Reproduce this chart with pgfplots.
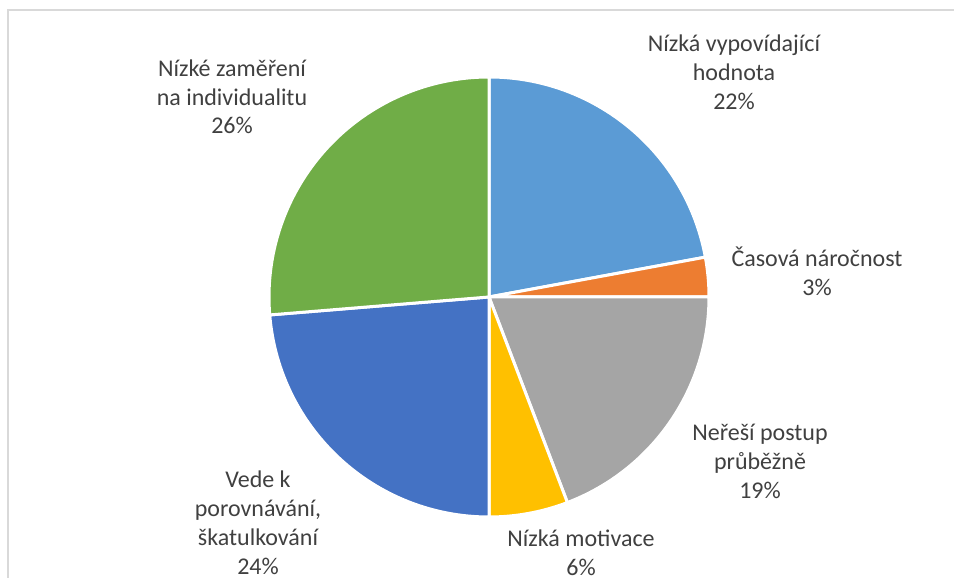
\documentclass[border=0pt]{standalone}
\usepackage{pgfplots}
\usepackage{pgfplotstable}
\pgfplotsset{compat=1.18}
\usepackage{fontspec}
\setmainfont{Carlito}
\definecolor{slice0}{HTML}{5B9BD5}
\definecolor{slice1}{HTML}{ED7D31}
\definecolor{slice2}{HTML}{A5A5A5}
\definecolor{slice3}{HTML}{FFC000}
\definecolor{slice4}{HTML}{4472C4}
\definecolor{slice5}{HTML}{70AD47}
\definecolor{txt}{HTML}{404040}
\definecolor{frame}{HTML}{D9D9D9}
% share of each answer, in percent, clockwise from the top
\pgfplotstableread{
value
22.1
2.9
19.2
5.8
23.7
26.3
}\piedata
\begin{document}
\begin{tikzpicture}
\begin{axis}[name=ax, hide axis, scale only axis, x=1pt, y=1pt,
  xmin=0, xmax=954, ymin=0, ymax=578, clip=false, ticks=none]
\def\cum{90}
\pgfplotsinvokeforeach{0,...,5}{
  \pgfplotstablegetelem{#1}{value}\of\piedata
  \pgfmathsetmacro\angA{\cum}
  \pgfmathsetmacro\angB{\cum-3.6*\pgfplotsretval}
  \pgfmathsetmacro\xA{489+220*cos(\angA)}
  \pgfmathsetmacro\yA{281+220*sin(\angA)}
  \edef\doit{\noexpand\fill[fill=slice#1, draw=white, line width=3pt, line join=round]
    (axis cs:489,281) -- (axis cs:\xA,\yA)
    arc[start angle=\angA, end angle=\angB, radius=220pt] -- cycle;}
  \doit
  \global\let\cum\angB
}
\draw[frame, line width=1.3pt] (axis cs:8,0) -- (axis cs:8,568) -- (axis cs:954,568);
\tikzset{lb/.style={anchor=base, inner sep=0pt, text=txt, font=\fontsize{24}{29}\selectfont}}
% Nizka vypovidajici hodnota
\node[lb] at (axis cs:734,526) {Nízká vypovídající};
\node[lb] at (axis cs:734,497) {hodnota};
\node[lb] at (axis cs:734,468) {22\%};
% Casova narocnost
\node[lb] at (axis cs:817,311) {Časová náročnost};
\node[lb] at (axis cs:817,282) {3\%};
% Neresi postup prubezne
\node[lb] at (axis cs:760,137) {Neřeší postup};
\node[lb] at (axis cs:760,108) {průběžně};
\node[lb] at (axis cs:760,79) {19\%};
% Nizka motivace
\node[lb] at (axis cs:581,31) {Nízká motivace};
\node[lb] at (axis cs:581,2) {6\%};
% Vede k porovnavani
\node[lb] at (axis cs:258,90) {Vede k};
\node[lb] at (axis cs:258,61) {porovnávání,};
\node[lb] at (axis cs:258,32) {škatulkování};
\node[lb] at (axis cs:258,3) {24\%};
% Nizke zamereni
\node[lb] at (axis cs:232,501) {Nízké zaměření};
\node[lb] at (axis cs:232,472) {na individualitu};
\node[lb] at (axis cs:232,444) {26\%};
\end{axis}
\pgfresetboundingbox
\useasboundingbox (ax.south west) rectangle (ax.north east);
\end{tikzpicture}
\end{document}
